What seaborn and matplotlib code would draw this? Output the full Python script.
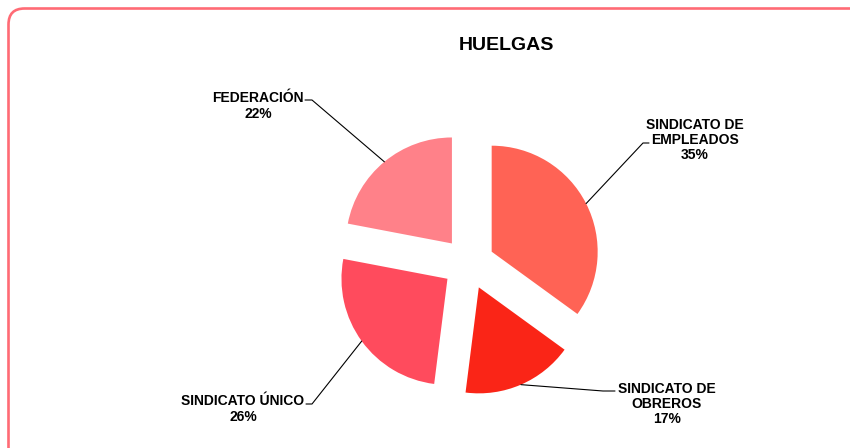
import numpy as np
import seaborn as sns
import matplotlib.pyplot as plt
from matplotlib.patches import FancyBboxPatch

# data
categories = ['SINDICATO DE\nEMPLEADOS', 'SINDICATO DE\nOBREROS', 'SINDICATO ÚNICO', 'FEDERACIÓN']
shares = [35, 17, 26, 22]
colors = ['#FF6355', '#FA2517', '#FF4B5D', '#FF8189']

sns.set_theme(style="white")
plt.rcParams['font.family'] = ['Liberation Sans', 'DejaVu Sans']

W, H = 850, 448
fig = plt.figure(figsize=(W / 100, H / 100), dpi=100)
ax = fig.add_axes([0, 0, 1, 1])

# pie geometry (pixel units, y up)
cx, cy, r, expl = 468.5, H - 263.5, 106, 26
wedges, _ = ax.pie(shares, colors=colors, startangle=90, counterclock=False,
                   explode=[expl] * len(shares), radius=r, center=(cx, cy),
                   wedgeprops=dict(linewidth=0), frame=True)
ax.set_xlim(0, W)
ax.set_ylim(0, H)
ax.set_aspect('equal')
ax.axis('off')

# label placement: (text center x, block center y, knee x, end x, line y) in pixels from top
label_pos = [
    (695, 140, 643, 649, 143),
    (667, 404, 603, 615, 391),
    (243, 409, 312, 306, 404),
    (258, 106, 312, 305, 100),
]

for w, cat, s, (tx, ty, kx, ex, ly) in zip(wedges, categories, shares, label_pos):
    mid = np.deg2rad((w.theta1 + w.theta2) / 2)
    wx, wy = w.center
    px, py = wx + r * np.cos(mid), wy + r * np.sin(mid)
    ax.plot([px, kx, ex], [py, H - ly, H - ly], color='black', lw=0.8)
    ax.text(tx, H - ty, f'{cat}\n{s}%', ha='center', va='center', fontsize=10,
            fontweight='bold', linespacing=1.1, color='black')

ax.text(506, H - 45, 'HUELGAS', ha='center', va='center', fontsize=14,
        fontweight='bold', color='black')

# outer rounded border (partly outside the canvas)
border = FancyBboxPatch((8.5, -30), 880, H - 8.5 + 30,
                        boxstyle='round,pad=0,rounding_size=16',
                        transform=None, fill=False, edgecolor='#FF6B75', linewidth=1.9)
fig.add_artist(border)

plt.savefig('out.png', dpi=100)
